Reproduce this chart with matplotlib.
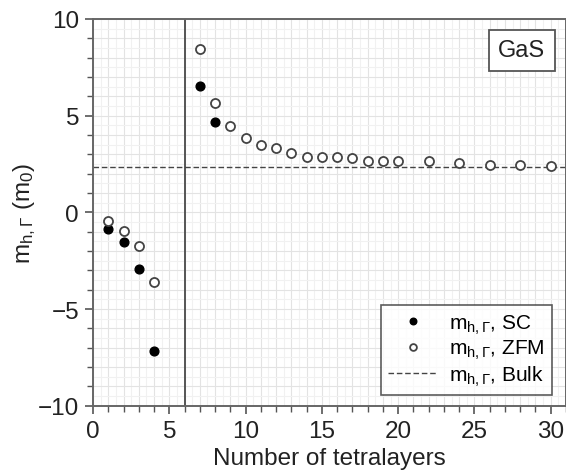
import matplotlib
matplotlib.use("Agg")
import matplotlib.pyplot as plt
from matplotlib.ticker import MultipleLocator

plt.rcParams['font.family'] = ['Liberation Sans', 'DejaVu Sans']
plt.rcParams['mathtext.fontset'] = 'custom'
plt.rcParams['mathtext.rm'] = 'Liberation Sans'
plt.rcParams['mathtext.it'] = 'Liberation Sans:italic'

# Self-consistent hole effective masses
sc_layers = [1, 2, 3, 4, 7, 8]
sc_mass = [-0.86, -1.55, -2.93, -7.19, 6.52, 4.69]

# Zone-folding model hole effective masses
zfm_layers = [1, 2, 3, 4, 7, 8, 9, 10, 11, 12, 13, 14, 15, 16, 17, 18, 19, 20,
              22, 24, 26, 28, 30]
zfm_mass = [-0.45, -0.95, -1.76, -3.62, 8.45, 5.65, 4.45, 3.83, 3.50, 3.33, 3.08,
            2.84, 2.84, 2.84, 2.81, 2.68, 2.66, 2.64, 2.64, 2.55, 2.47, 2.46, 2.42]

bulk_mass = 2.35
divider_x = 6

x_ticks = [0, 5, 10, 15, 20, 25, 30]
y_ticks = [-10, -5, 0, 5, 10]

fig = plt.figure(figsize=(5.66, 4.77), dpi=100)
ax = fig.add_axes([0.1643, 0.1474, 0.8357, 0.8107])

# background grid
ax.xaxis.set_minor_locator(MultipleLocator(1))
ax.yaxis.set_minor_locator(MultipleLocator(1))
for v in [i * 0.5 for i in range(0, 63)]:
    ax.axvline(v, color='#e3e3e3' if v % 1 == 0 else '#f1f1f1', lw=0.8, zorder=0)
for v in [-10 + i * 0.5 for i in range(0, 41)]:
    ax.axhline(v, color='#e3e3e3' if v % 1 == 0 else '#f1f1f1', lw=0.8, zorder=0)

ax.axvline(divider_x, color='#555555', lw=1.4, zorder=1)
ax.axhline(bulk_mass, color='#444444', lw=1.0, ls=(0, (4, 2)), zorder=1,
           label=r'm$_{\mathrm{h,\Gamma}}$, Bulk')

ax.plot(sc_layers, sc_mass, 'o', ms=6.3, mfc='black', mec='black', zorder=3,
        label=r'm$_{\mathrm{h,\Gamma}}$, SC')
ax.plot(zfm_layers, zfm_mass, 'o', ms=6.5, mfc='white', mec='#444444', mew=1.3,
        zorder=3, label=r'm$_{\mathrm{h,\Gamma}}$, ZFM')

ax.set_xlim(0, 31)
ax.set_ylim(-10, 10)
ax.set_xticks(x_ticks)
ax.set_yticks(y_ticks)
ax.tick_params(which='major', direction='out', length=6, width=1.2,
               color='#555555', labelsize=17.5, pad=4, labelcolor='#222222')
ax.tick_params(which='minor', direction='out', length=4, width=1.0,
               color='#555555')
for s in ax.spines.values():
    s.set_color('#666666')
    s.set_linewidth(1.4)

ax.set_xlabel('Number of tetralayers', fontsize=17.5, labelpad=4, color='#222222')
ax.set_ylabel(r'm$_{\mathrm{h,\Gamma}}$ (m$_0$)', fontsize=17.5, labelpad=0,
              color='#222222')

handles, labels = ax.get_legend_handles_labels()
order = [1, 2, 0]
leg = ax.legend([handles[i] for i in order], [labels[i] for i in order],
                loc='lower right', bbox_to_anchor=(0.992, 0.0), fontsize=15,
                frameon=True, fancybox=False, edgecolor='#333333',
                handlelength=2.4, handletextpad=0.5, borderpad=0.35,
                labelspacing=0.12, markerscale=0.75)
leg.get_frame().set_linewidth(1.2)

ax.text(0.956, 0.948, 'GaS', transform=ax.transAxes, ha='right', va='top',
        fontsize=17, color='#222222',
        bbox=dict(boxstyle='square,pad=0.4', fc='white', ec='#555555', lw=1.3))

fig.savefig('out.png', dpi=100)
